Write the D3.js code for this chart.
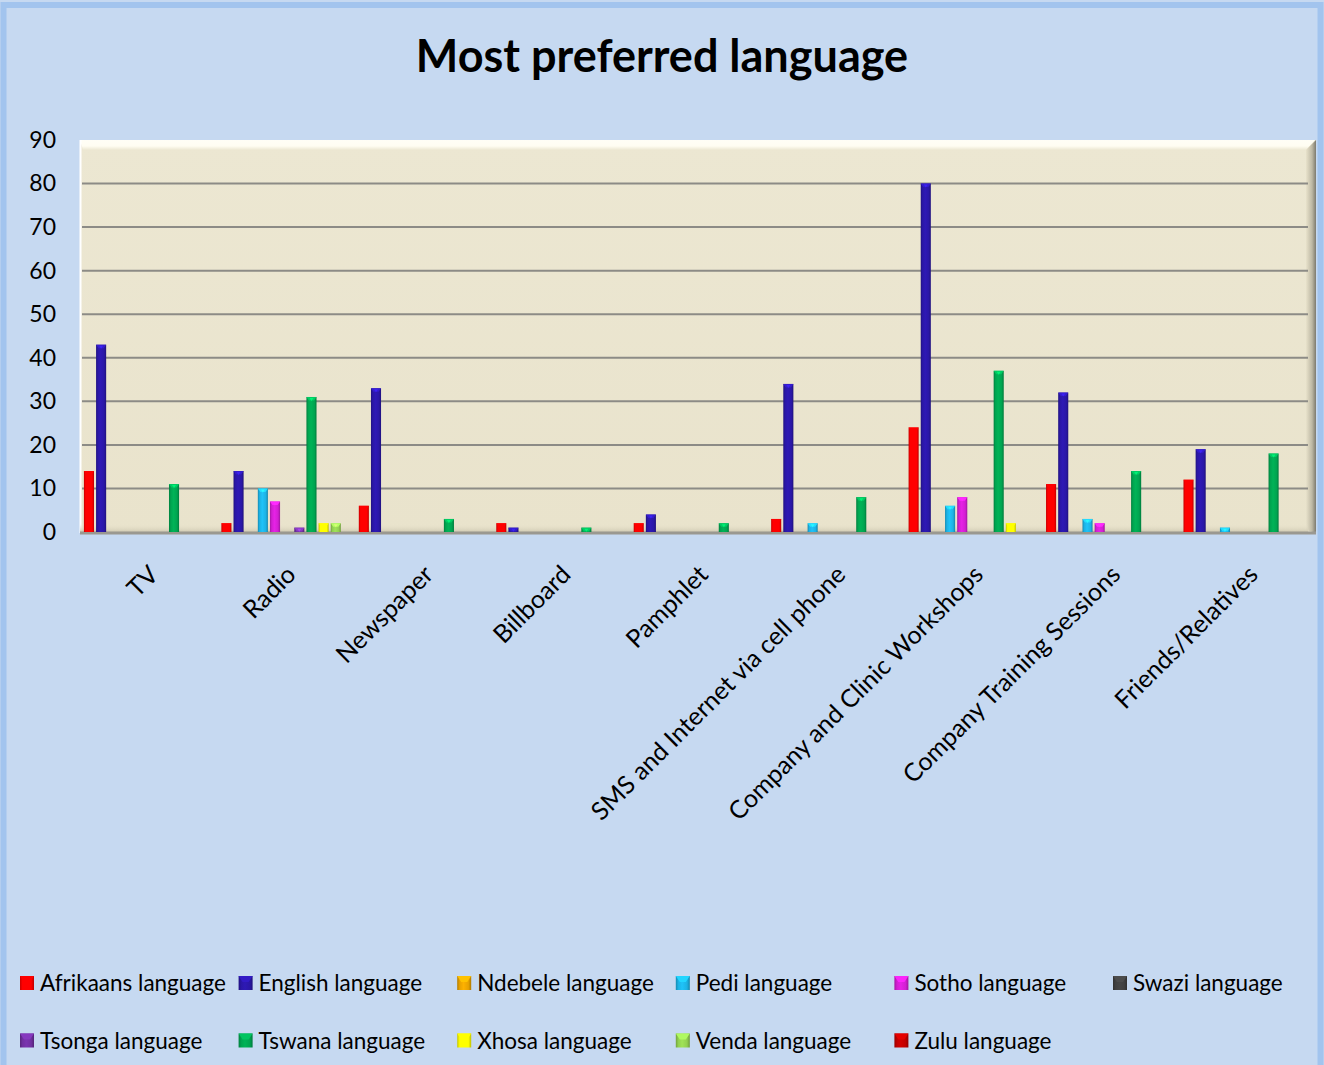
<!DOCTYPE html>
<html>
<head>
<meta charset="utf-8">
<script src="https://cdn.jsdelivr.net/npm/d3@7"></script>
<style>
  html, body { margin: 0; padding: 0; background: #c6d9f1; }
  svg { display: block; }
  text { font-family: Lato, "Open Sans", sans-serif; fill: #000; }
</style>
</head>
<body>
<svg id="chart" width="1324" height="1065"></svg>
<script>
// Survey answers: media channel vs. most preferred language (counts)
const categories = ["TV", "Radio", "Newspaper", "Billboard", "Pamphlet",
  "SMS and Internet via cell phone", "Company and Clinic Workshops",
  "Company Training Sessions", "Friends/Relatives"];

const seriesNames = ["Afrikaans language", "English language", "Ndebele language",
  "Pedi language", "Sotho language", "Swazi language", "Tsonga language",
  "Tswana language", "Xhosa language", "Venda language", "Zulu language"];

const afrikaans = [14, 2, 6, 2, 2, 3, 24, 11, 12];
const english   = [43, 14, 33, 1, 4, 34, 80, 32, 19];
const ndebele   = [0, 0, 0, 0, 0, 0, 0, 0, 0];
const pedi      = [0, 10, 0, 0, 0, 2, 6, 3, 1];
const sotho     = [0, 7, 0, 0, 0, 0, 8, 2, 0];
const swazi     = [0, 0, 0, 0, 0, 0, 0, 0, 0];
const tsonga    = [0, 1, 0, 0, 0, 0, 0, 0, 0];
const tswana    = [11, 31, 3, 1, 2, 8, 37, 14, 18];
const xhosa     = [0, 2, 0, 0, 0, 0, 2, 0, 0];
const venda     = [0, 2, 0, 0, 0, 0, 0, 0, 0];
const zulu      = [0, 0, 0, 0, 0, 0, 0, 0, 0];

const yTicks = [0, 10, 20, 30, 40, 50, 60, 70, 80, 90];

const seriesValues = [afrikaans, english, ndebele, pedi, sotho, swazi,
  tsonga, tswana, xhosa, venda, zulu];

// Series fill colours, in legend order
const palette = ["#ff0000", "#2a17a6", "#e8a200", "#1cb2e4", "#d21fd2", "#404040",
  "#7030a0", "#00a450", "#ffff00", "#92d050", "#c00000"];

const W = 1324, H = 1065;
const plot = { left: 80, right: 1316, top: 140, bottom: 533 };
const svg = d3.select("#chart");
const defs = svg.append("defs");

// Chart background and frame
svg.append("rect").attr("x", 0).attr("y", 0).attr("width", W).attr("height", H)
  .attr("fill", "#c6d9f1");
svg.append("rect").attr("x", 3.5).attr("y", 5).attr("width", W - 7).attr("height", H + 20)
  .attr("fill", "none").attr("stroke", "#a2c4ee").attr("stroke-width", 6);

// Title
svg.append("text").attr("x", 662).attr("y", 72).attr("text-anchor", "middle")
  .style("font-size", "45px").style("font-weight", 700)
  .text("Most preferred language");

// Scales
const x0 = d3.scaleBand().domain(categories).range([81, 1318]).paddingInner(0).paddingOuter(0);
const x1 = d3.scaleBand().domain(d3.range(seriesNames.length)).range([0, x0.bandwidth()])
  .paddingInner(0.17).paddingOuter(0.24);
const y = d3.scaleLinear().domain([0, 90]).range([532, plot.top]);

// Back wall with bevelled top and right edges
const wallGrad = defs.append("linearGradient").attr("id", "wall").attr("x1", 0).attr("y1", 0).attr("x2", 0).attr("y2", 1);
wallGrad.append("stop").attr("offset", 0).attr("stop-color", "#ece7d2");
wallGrad.append("stop").attr("offset", 1).attr("stop-color", "#e9e3cc");
svg.append("rect").attr("x", plot.left).attr("y", plot.top)
  .attr("width", plot.right - plot.left).attr("height", plot.bottom - plot.top)
  .attr("fill", "url(#wall)");

const topBevel = defs.append("linearGradient").attr("id", "topBevel").attr("x1", 0).attr("y1", 0).attr("x2", 0).attr("y2", 1);
topBevel.append("stop").attr("offset", 0).attr("stop-color", "#fffef6");
topBevel.append("stop").attr("offset", 0.6).attr("stop-color", "#fffdf2");
topBevel.append("stop").attr("offset", 1).attr("stop-color", "#ece7d2");
svg.append("polygon")
  .attr("points", `${plot.left},${plot.top} ${plot.right - 1},${plot.top} ${plot.right - 10},${plot.top + 10} ${plot.left + 3},${plot.top + 10}`)
  .attr("fill", "url(#topBevel)");

const rightBevel = defs.append("linearGradient").attr("id", "rightBevel").attr("x1", 0).attr("y1", 0).attr("x2", 1).attr("y2", 0);
rightBevel.append("stop").attr("offset", 0).attr("stop-color", "#e8e2cb");
rightBevel.append("stop").attr("offset", 0.6).attr("stop-color", "#bdb8a4");
rightBevel.append("stop").attr("offset", 1).attr("stop-color", "#7d7a6e");
svg.append("polygon")
  .attr("points", `${plot.right - 10},${plot.top + 10} ${plot.right},${plot.top} ${plot.right},${plot.bottom} ${plot.right - 10},${plot.bottom - 3}`)
  .attr("fill", "url(#rightBevel)");

svg.append("line").attr("x1", plot.left + 0.5).attr("x2", plot.left + 0.5)
  .attr("y1", plot.top).attr("y2", plot.bottom).attr("stroke", "#ffffff").attr("stroke-width", 2);

// Gridlines
svg.append("g").selectAll("line").data(yTicks.filter(t => t > 0 && t < 90)).join("line")
  .attr("x1", plot.left + 2).attr("x2", plot.right - 8)
  .attr("y1", d => y(d)).attr("y2", d => y(d))
  .attr("stroke", "#8c8b86").attr("stroke-width", 2);

// Floor shading
const floorGrad = defs.append("linearGradient").attr("id", "floor").attr("x1", 0).attr("y1", 0).attr("x2", 0).attr("y2", 1);
floorGrad.append("stop").attr("offset", 0).attr("stop-color", "#e9e3cc").attr("stop-opacity", 0);
floorGrad.append("stop").attr("offset", 1).attr("stop-color", "#cfc9b2");
svg.append("rect").attr("x", plot.left).attr("y", 524).attr("width", plot.right - plot.left - 8)
  .attr("height", 8).attr("fill", "url(#floor)");
svg.append("line").attr("x1", plot.left).attr("x2", plot.right)
  .attr("y1", 533).attr("y2", 533).attr("stroke", "#9a9890").attr("stroke-width", 3);

// Bar shading gradients
palette.forEach((c, i) => {
  const g = defs.append("linearGradient").attr("id", "bar" + i)
    .attr("x1", 0).attr("y1", 0).attr("x2", 1).attr("y2", 0);
  const base = d3.color(c);
  g.append("stop").attr("offset", 0).attr("stop-color", base.darker(0.7));
  g.append("stop").attr("offset", 0.18).attr("stop-color", base);
  g.append("stop").attr("offset", 0.45).attr("stop-color", base.brighter(0.25));
  g.append("stop").attr("offset", 0.8).attr("stop-color", base);
  g.append("stop").attr("offset", 1).attr("stop-color", base.darker(0.8));
});

// Bars
const barData = [];
categories.forEach((cat, ci) => {
  seriesValues.forEach((vals, si) => {
    if (vals[ci] > 0) barData.push({ cat, si, v: vals[ci] });
  });
});

const bars = svg.append("g").selectAll("g").data(barData).join("g")
  .attr("transform", d => `translate(${x0(d.cat) + x1(d.si)},0)`);
const bw = x1.bandwidth();
bars.append("rect")
  .attr("x", 0).attr("y", d => y(d.v)).attr("width", bw).attr("height", d => 532 - y(d.v))
  .attr("fill", d => `url(#bar${d.si})`);
bars.append("polygon")
  .attr("points", d => {
    const t = y(d.v);
    return `0,${t} ${bw},${t} ${bw - 2.5},${t + 3.5} 2.5,${t + 3.5}`;
  })
  .attr("fill", d => d3.color(palette[d.si]).brighter(0.6));
bars.append("polygon")
  .attr("points", d => {
    const t = y(d.v);
    return `${bw / 2 - 2},${t + 1} ${bw / 2 + 2},${t + 1} ${bw / 2},${t + 4}`;
  })
  .attr("fill", d => d3.color(palette[d.si]).brighter(1.2)).attr("opacity", 0.8);

// Value axis
const yAxis = svg.append("g").attr("transform", `translate(${plot.left},0)`)
  .call(d3.axisLeft(y).tickValues(yTicks).tickSize(0).tickPadding(24).tickFormat(d3.format("d")));
yAxis.select(".domain").remove();
yAxis.selectAll("text").style("font-size", "23px").style("font-family", "Lato, sans-serif");

// Category axis with slanted labels
const xAxis = svg.append("g").attr("transform", `translate(0,${plot.bottom})`)
  .call(d3.axisBottom(x0).tickSize(0));
xAxis.select(".domain").remove();
xAxis.selectAll("text")
  .style("font-size", "25px").style("font-family", "Lato, sans-serif")
  .attr("text-anchor", "end")
  .attr("y", 0).attr("dy", "0.35em")
  .attr("transform", "translate(4,37) rotate(-45)");

// Legend
const legendCols = 6, colStep = 218.6;
const legend = svg.append("g").selectAll("g").data(seriesNames).join("g")
  .attr("transform", (d, i) => `translate(${20 + (i % legendCols) * colStep},${983 + Math.floor(i / legendCols) * 57.5})`);
legend.append("rect").attr("x", 0).attr("y", -7).attr("width", 14).attr("height", 14)
  .attr("fill", (d, i) => `url(#bar${i})`);
legend.append("polygon")
  .attr("points", "0,-7 14,-7 10,-1 4,-1")
  .attr("fill", (d, i) => d3.color(palette[i]).brighter(0.5));
legend.append("text").attr("x", 20).attr("y", 0).attr("dy", "0.36em")
  .style("font-size", "22.5px").text(d => d);
</script>
</body>
</html>
